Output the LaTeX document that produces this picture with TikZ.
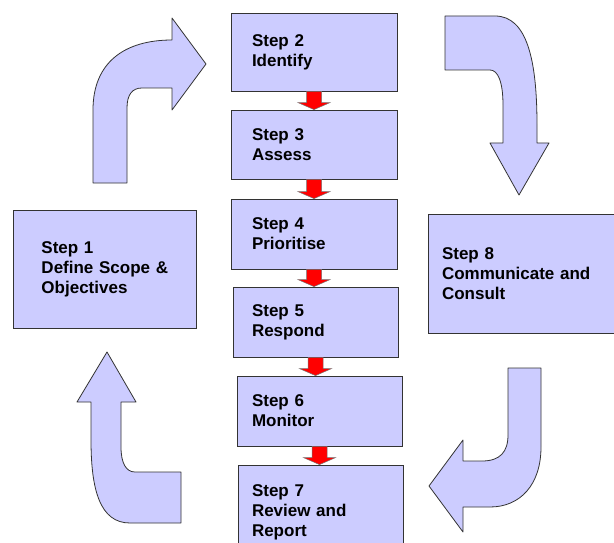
\documentclass[tikz,border=0pt]{standalone}
\usepackage{fontspec}
\setmainfont{Liberation Sans}
\usepackage{tikz}
\usetikzlibrary{calc, arrows, shapes}
\definecolor{stepfill}{HTML}{CCCCFF}
\tikzset{stepbox/.style={draw=black!80, fill=stepfill, line width=0.8pt, align=left, inner sep=0pt, font=\bfseries\fontsize{17}{20}\selectfont}}
\tikzset{bigarrow/.style={draw=black!80, fill=stepfill, line width=0.8pt, line join=round}}
\tikzset{redarrow/.style={draw=black!55, fill=red, line width=0.5pt}}
\newcommand{\stepflow}[2]{%
\path[redarrow] let \p1=(#1.south), \p2=(#2.north) in
(\x1-7.5pt,\y1) -- (\x1+7.5pt,\y1) -- (\x1+7.5pt,\y2+7pt) -- (\x1+16pt,\y2+7pt)
-- (\x1,\y2) -- (\x1-16pt,\y2+7pt) -- (\x1-7.5pt,\y2+7pt) -- cycle;}

\begin{document}
\begin{tikzpicture}[x=1pt, y=-1pt]
\useasboundingbox (0,0) rectangle (614,543);
\node[stepbox, minimum width=183pt, minimum height=118pt, text width=126pt] (step1) at (104.5,269) {Step 1\\\mbox{Define Scope \&}\\Objectives};
\node[stepbox, minimum width=166pt, minimum height=78pt, text width=124pt] (step2) at (314,52) {Step 2\\Identify};
\node[stepbox, minimum width=166pt, minimum height=69pt, text width=124pt] (step3) at (314,144.5) {Step 3\\Assess};
\node[stepbox, minimum width=166pt, minimum height=70pt, text width=124pt] (step4) at (314,234) {Step 4\\Prioritise};
\node[stepbox, minimum width=165pt, minimum height=70pt, text width=127pt] (step5) at (315.5,322) {Step 5\\Respond};
\node[stepbox, minimum width=165pt, minimum height=70pt, text width=135pt] (step6) at (319.5,411) {Step 6\\Monitor};
\node[stepbox, minimum width=165pt, minimum height=94pt, text width=137pt] (step7) at (320.5,512) {Step 7\\Review and\\Report};
\node[stepbox, minimum width=188pt, minimum height=119pt, text width=160pt] (step8) at (522,273.5) {Step 8\\Communicate and\\Consult};

\stepflow{step2}{step3}
\stepflow{step3}{step4}
\stepflow{step4}{step5}
\stepflow{step5}{step6}
\stepflow{step6}{step7}

\path[bigarrow] (93,183) -- (93,110) .. controls (93,62) and (125,40) .. (172,40) -- (172,18) -- (206,64)
-- (172,110) -- (172,88) -- (142,88) .. controls (132,88) and (127,95) .. (127,108) -- (127,183) -- cycle;
\path[bigarrow] (445,16) -- (495,16) .. controls (527,16) and (537,60) .. (537,125) -- (537,143) -- (549,143)
-- (519,195) -- (490,143) -- (503,143) -- (503,105) .. controls (503,82) and (498,70) .. (490,70) -- (445,70) -- cycle;
\path[bigarrow] (508,368) -- (541,368) -- (541,447) .. controls (541,485) and (520,507) .. (490,507) -- (463,507)
-- (463,532) -- (429,486) -- (463,440) -- (463,461) -- (482,461) .. controls (500,461) and (508,452) .. (508,435) -- cycle;
\path[bigarrow] (107,352) -- (136,402) -- (121,402) -- (121,447) .. controls (121,463) and (126,472) .. (135,472)
-- (181,472) -- (181,523) -- (130,523) .. controls (100,523) and (91,490) .. (91,440) -- (91,402) -- (77,402) -- cycle;
\end{tikzpicture}
\end{document}
